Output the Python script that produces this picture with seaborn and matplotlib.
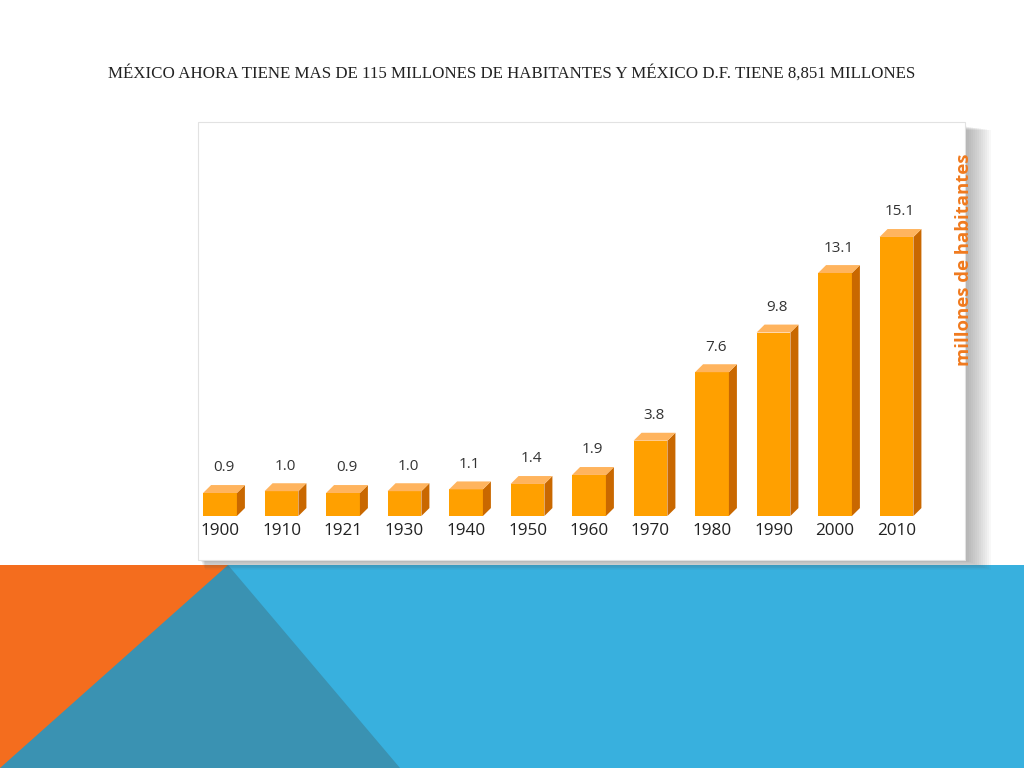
import numpy as np
import pandas as pd
import matplotlib
matplotlib.use('Agg')
import matplotlib.pyplot as plt
from matplotlib.patches import Polygon, Rectangle
import seaborn as sns

# datos de la grafica
anios = ['1900', '1910', '1921', '1930', '1940', '1950', '1960', '1970', '1980', '1990', '2000', '2010']
poblacion = [0.9, 1.0, 0.9, 1.0, 1.1, 1.4, 1.9, 3.8, 7.6, 9.8, 13.1, 15.1]
titulo = 'MÉXICO AHORA TIENE MAS DE 115 MILLONES DE HABITANTES Y MÉXICO D.F. TIENE 8,851 MILLONES'
etiqueta_y = 'millones de habitantes'

df = pd.DataFrame({'anio': anios, 'pob': poblacion})

sns.set_style('white')
plt.rcParams['font.family'] = ['Open Sans', 'DejaVu Sans']

fig = plt.figure(figsize=(10.24, 7.68), dpi=100)

# fondo de la diapositiva (coordenadas en pixeles)
bg = fig.add_axes([0, 0, 1, 1], zorder=0)
bg.set_xlim(0, 1024)
bg.set_ylim(768, 0)
bg.axis('off')
bg.add_patch(Rectangle((0, 565), 1024, 203, color='#38B0DE', lw=0))
bg.add_patch(Polygon([(0, 565), (228, 565), (400, 768), (0, 768)], closed=True, color='#3A92B2', lw=0))
bg.add_patch(Polygon([(0, 565), (228, 565), (0, 768)], closed=True, color='#F46D1E', lw=0))

# sombra del recuadro
for k in range(14):
    bg.add_patch(Rectangle((200 + k * 0.4, 126 + k * 0.3), 765 + k * 1.6, 434 + k * 0.45,
                           color='#555555', alpha=0.04, lw=0))
bg.add_patch(Rectangle((198, 122), 767, 438, facecolor='white', edgecolor='#e2e2e2', lw=0.8))

bg.text(512, 73, titulo, ha='center', va='center', fontsize=12.2,
        family=['Liberation Serif', 'DejaVu Serif'], color='#222222')

# grafica de barras
ax = fig.add_axes([189.25 / 1024, 252 / 768, 738 / 1024, 316 / 768], zorder=2)
ax.patch.set_alpha(0)
sns.barplot(data=df, x='anio', y='pob', color='#FFA000', width=0.55, saturation=1,
            ax=ax, edgecolor='none')

y0 = -0.377
ax.set_ylim(y0, 17.15)
ax.set_xlim(-0.5, 11.5)

dx = 0.13
dy = 0.44
for p, v in zip(ax.patches, poblacion):
    p.set_y(y0)
    p.set_height(v - y0)
    x0 = p.get_x()
    x1 = x0 + p.get_width()
    top = v
    ax.add_patch(Polygon([(x1, y0), (x1 + dx, y0 + dy), (x1 + dx, top + dy), (x1, top)],
                         closed=True, color='#C96800', lw=0))
    ax.add_patch(Polygon([(x0, top), (x0 + dx, top + dy), (x1 + dx, top + dy), (x1, top)],
                         closed=True, color='#FFB45E', lw=0))
    ax.annotate(f'{v:.1f}', (x0 + p.get_width() / 2 + 0.06, top), xytext=(0, 18),
                textcoords='offset points', ha='center', va='center', fontsize=11,
                color='#333333')

sns.despine(ax=ax, left=True, bottom=True)
ax.set_yticks([])
ax.set_xlabel('')
ax.tick_params(axis='x', length=0, pad=5, labelsize=12.3, labelcolor='#222222')

ax.set_ylabel(etiqueta_y, color='#F07A1E', fontsize=13.3, fontweight='bold', rotation=90)
ax.yaxis.set_label_position('right')
ax.yaxis.set_label_coords(1.0376, 0.81)

fig.savefig('out.png', dpi=100)
